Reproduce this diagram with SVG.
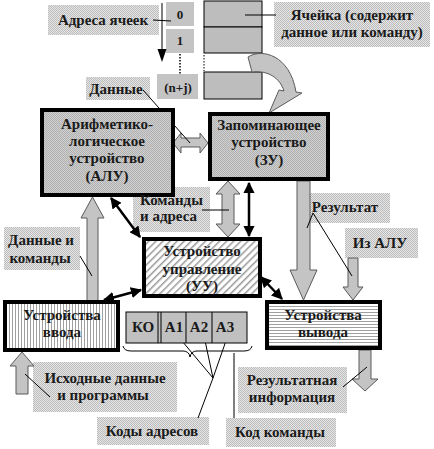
<svg xmlns="http://www.w3.org/2000/svg" width="434" height="449" viewBox="0 0 434 449">
<style>
.t{font-family:"Liberation Serif","Times New Roman",serif;font-weight:bold;font-size:15px;fill:#1a1a1a;text-anchor:middle}
.s{font-size:13px}
.lbl{fill:url(#dith)}
.box{stroke:#000;stroke-width:4}
.ga{fill:#c4c4c4;stroke:#5a5a5a;stroke-width:1}
.ln{stroke:#000;stroke-width:1;fill:none}
.ba{stroke:#000;stroke-width:2.5;fill:none;marker-start:url(#ah);marker-end:url(#ah)}
.cell{fill:#bdbdbd;stroke:#000;stroke-width:1}
</style>
<defs>
<pattern id="dith" width="2" height="2" patternUnits="userSpaceOnUse">
<rect width="2" height="2" fill="#e6e6e6"/><rect width="1" height="1" fill="#bcbcbc"/><rect x="1" y="1" width="1" height="1" fill="#bcbcbc"/>
</pattern>
<pattern id="dithd" width="2" height="2" patternUnits="userSpaceOnUse">
<rect width="2" height="2" fill="#d0d0d0"/><rect width="1" height="1" fill="#b0b0b0"/><rect x="1" y="1" width="1" height="1" fill="#b0b0b0"/>
</pattern>
<pattern id="diag" width="5" height="5" patternUnits="userSpaceOnUse" patternTransform="rotate(45)">
<rect width="5" height="5" fill="#fff"/><rect width="1.5" height="5" fill="#9a9a9a"/>
</pattern>
<pattern id="vert" width="3" height="3" patternUnits="userSpaceOnUse">
<rect width="3" height="3" fill="#fff"/><rect width="1" height="3" fill="#a0a0a0"/>
</pattern>
<pattern id="horz" width="3" height="3" patternUnits="userSpaceOnUse">
<rect width="3" height="3" fill="#fff"/><rect width="3" height="1" fill="#a0a0a0"/>
</pattern>
<marker id="ah" viewBox="0 0 10 10" refX="9" refY="5" markerWidth="4.5" markerHeight="4.5" orient="auto-start-reverse" markerUnits="strokeWidth">
<path d="M0,0 L10,5 L0,10 Z" fill="#000"/>
</marker>
</defs>

<g id="labels">
<rect class="lbl" x="48" y="5" width="111" height="30"/>
<rect class="lbl" x="274" y="2" width="156" height="45"/>
<rect class="lbl" x="86" y="77" width="64" height="23"/>
<rect class="lbl" x="133" y="187" width="77" height="45"/>
<rect class="lbl" x="4" y="227" width="76" height="43"/>
<rect class="lbl" x="303" y="193" width="87" height="30"/>
<rect class="lbl" x="345" y="228" width="73" height="30"/>
<rect class="lbl" x="33" y="362" width="144" height="50"/>
<rect class="lbl" x="97" y="417" width="112" height="28"/>
<rect class="lbl" x="238" y="367" width="109" height="46"/>
<rect class="lbl" x="226" y="418" width="110" height="29"/>
</g>

<g id="address-cells">
<rect x="166" y="2" width="28" height="24" fill="#c4c4c4"/>
<rect x="166" y="29" width="28" height="24" fill="#c4c4c4"/>
<rect x="157" y="74" width="41" height="25" fill="#c4c4c4"/>
<text class="t s" x="180" y="19">0</text>
<text class="t s" x="180" y="45">1</text>
<text class="t s" x="178" y="92">(n+j)</text>
</g>

<g id="memory-cells">
<rect class="cell" x="204" y="1" width="58" height="26"/>
<rect class="cell" x="204" y="27" width="58" height="26"/>
<rect class="cell" x="204" y="72" width="58" height="27"/>
<line x1="204" y1="55" x2="204" y2="71" stroke="#000" stroke-width="1" stroke-dasharray="1.5,1.5"/>
</g>

<g id="connectors">
<line class="ln" x1="162" y1="3" x2="162" y2="50"/>
<path d="M157.5,49 L166.5,49 L162,62 Z" fill="#000"/>
<line x1="180" y1="54" x2="180" y2="74" stroke="#000" stroke-width="1.5" stroke-dasharray="1.5,1.5"/>
<path class="ga" d="M248,57 C262,48 290,55 296,92 L302,93 L269,113 L279,90 L284,91 C280,78 268,70 252,72 Z" stroke="#000"/>
<path class="ga" d="M173,143 L181,133 L181,138 L200,138 L200,133 L208,143 L200,153 L200,147 L181,147 L181,153 Z"/>
<path class="ga" d="M228,181 L240,194 L234,194 L234,224 L240,224 L228,237 L216,224 L222,224 L222,194 L216,194 Z"/>
<line class="ba" x1="249" y1="183" x2="249" y2="236"/>
<path class="ga" d="M92.5,197 L104,218 L98,218 L98,301 L87,301 L87,218 L81,218 Z"/>
<path class="ga" d="M297,181 L310,181 L310,270 L317,270 L303.5,300 L290,270 L297,270 Z"/>
<path class="ga" d="M348,258 L358,258 L358,287 L363,287 L353,300 L343,287 L348,287 Z"/>
<path class="ga" d="M22,352 L34,366 L28,366 L28,394 L16,394 L16,366 L10,366 Z" stroke="#333"/>
<path class="ga" d="M359,350 L371,350 L371,379 L378,379 L365,391 L352,379 L359,379 Z"/>
<line class="ba" x1="111" y1="198" x2="140" y2="237"/>
<line class="ba" x1="104" y1="300" x2="141" y2="290"/>
<line class="ba" x1="261" y1="277" x2="282" y2="299"/>
<line class="ln" x1="153" y1="20" x2="171" y2="21"/>
<line class="ln" x1="245" y1="15" x2="276" y2="15"/>
<line class="ln" x1="143" y1="90" x2="190" y2="143"/>
<line class="ln" x1="202" y1="210" x2="229" y2="210"/>
<line class="ln" x1="80" y1="256" x2="92" y2="276"/>
<line class="ln" x1="313" y1="213" x2="307" y2="228"/>
<line class="ln" x1="313" y1="213" x2="352" y2="276"/>
<line class="ln" x1="25" y1="374" x2="50" y2="397"/>
<line class="ln" x1="343" y1="387" x2="367" y2="367"/>
<line class="ln" x1="177" y1="335" x2="213" y2="378"/>
<line class="ln" x1="204" y1="336" x2="213" y2="378"/>
<line class="ln" x1="228" y1="335" x2="213" y2="378"/>
<line class="ln" x1="213" y1="378" x2="198" y2="418"/>
<line class="ln" x1="234" y1="353" x2="234" y2="418"/>
<path class="ln" d="M123,346 Q124,351 131,351 L183,351 Q189,351 190,357 Q191,351 197,351 L244,351 Q251,351 252,346"/>
</g>

<g id="alu">
<rect class="box" x="42" y="110" width="131" height="85" fill="url(#dithd)"/>
<text class="t" x="107" y="129">Арифметико-</text>
<text class="t" x="107" y="146">логическое</text>
<text class="t" x="107" y="163">устройство</text>
<text class="t" x="107" y="181">(АЛУ)</text>
</g>

<g id="zu">
<rect class="box" x="210" y="114" width="118" height="65" fill="url(#dithd)"/>
<text class="t" x="269" y="130">Запоминающее</text>
<text class="t" x="269" y="147">устройство</text>
<text class="t" x="269" y="165">(ЗУ)</text>
</g>

<g id="uu">
<rect class="box" x="144" y="239" width="116" height="57" fill="url(#diag)"/>
<text class="t" x="202" y="256">Устройство</text>
<text class="t" x="202" y="274">управление</text>
<text class="t" x="202" y="291">(УУ)</text>
</g>

<g id="input">
<rect class="box" x="5" y="302" width="113" height="48" fill="url(#vert)"/>
<text class="t" x="62" y="320">Устройства</text>
<text class="t" x="62" y="337">ввода</text>
</g>

<g id="output">
<rect class="box" x="267" y="302" width="113" height="46" fill="url(#horz)"/>
<text class="t" x="323" y="320">Устройства</text>
<text class="t" x="323" y="337">вывода</text>
</g>

<g id="codes">
<rect x="126" y="312" width="121" height="31" fill="#c0c0c0" stroke="#000" stroke-width="1"/>
<line class="ln" x1="158" y1="312" x2="158" y2="343"/>
<line class="ln" x1="161" y1="312" x2="161" y2="343"/>
<line class="ln" x1="186" y1="312" x2="186" y2="343"/>
<line class="ln" x1="212" y1="312" x2="212" y2="343"/>
<text class="t" x="143" y="332">КО</text>
<text class="t" x="174" y="332">А1</text>
<text class="t" x="199" y="332">А2</text>
<text class="t" x="225" y="332">А3</text>
</g>

<g id="label-texts">
<text class="t" x="103" y="25">Адреса ячеек</text>
<text class="t" x="352" y="20">Ячейка (содержит</text>
<text class="t" x="352" y="37">данное или команду)</text>
<text class="t" x="116" y="94">Данные</text>
<text class="t" x="140" y="205" style="text-anchor:start">Команды</text>
<text class="t" x="140" y="221" style="text-anchor:start">и адреса</text>
<text class="t" x="41" y="245">Данные и</text>
<text class="t" x="40" y="263">команды</text>
<text class="t" x="345" y="212">Результат</text>
<text class="t" x="380" y="248">Из АЛУ</text>
<text class="t" x="105" y="383">Исходные данные</text>
<text class="t" x="103" y="400">и программы</text>
<text class="t" x="152" y="436">Коды адресов</text>
<text class="t" x="292" y="385">Результатная</text>
<text class="t" x="292" y="402">информация</text>
<text class="t" x="280" y="437">Код команды</text>
</g>
</svg>
